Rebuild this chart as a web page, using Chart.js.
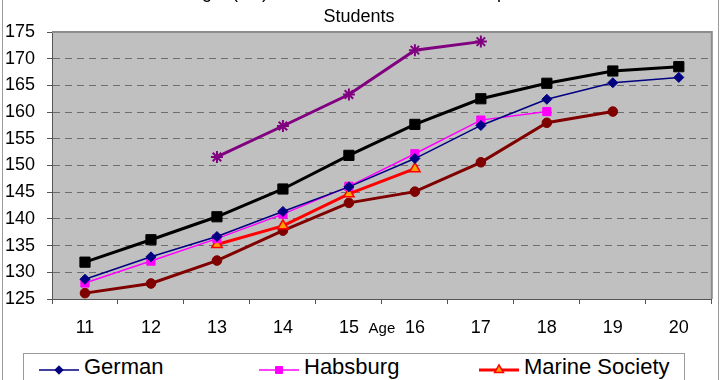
<!DOCTYPE html>
<html><head><meta charset="utf-8">
<script src="https://cdn.jsdelivr.net/npm/chart.js@4.4.1/dist/chart.umd.min.js"></script>
<style>
html,body{margin:0;padding:0;background:#fff;overflow:hidden;width:720px;height:380px;}
#wrap{position:absolute;left:0;top:-20px;width:720px;height:370px;}
#edgeL,#edgeR{position:absolute;top:0;width:1px;height:380px;background:#9a9a9a;}
#edgeL{left:2px}#edgeR{left:718px}
#legend{position:absolute;left:23px;top:353px;width:662px;height:80px;border:1px solid #9a9a9a;box-sizing:border-box;font-family:"Liberation Sans",Arial,sans-serif;font-size:22px;color:#000;}
.li{position:absolute;display:flex;align-items:flex-start;height:26px;line-height:26px;white-space:nowrap;}
.li canvas{margin-right:5px;display:block;}
</style></head><body>
<div id="wrap"><canvas id="c" width="720" height="370"></canvas></div>
<div id="legend"></div>
<div id="edgeL"></div><div id="edgeR"></div>
<script>
const titleLines = ['Mean Height (cm) of Adolescent Males in Comparison with', 'Students'];
const axisTitle = 'Age';
const ages = ['11', '12', '13', '14', '15', '16', '17', '18', '19', '20'];
const german      = [128.7, 132.9, 136.7, 141.4, 146.0, 151.3, 157.5, 162.4, 165.5, 166.5];
const habsburg    = [128.0, 132.1, 136.3, 140.9, 146.1, 152.2, 158.5, 160.1, null, null];
const marine      = [null, null, 135.2, 138.7, 144.7, 149.4, null, null, null, null];
const sandhurst   = [131.9, 136.1, 140.4, 145.6, 151.9, 157.7, 162.5, 165.4, 167.7, 168.5];
const modern      = [null, null, 151.6, 157.4, 163.3, 171.6, 173.2, null, null, null];
const karlsschule = [126.1, 127.9, 132.2, 137.8, 143.0, 145.1, 150.6, 158.0, 160.1, null];
const yTickMin = 125, yTickMax = 175, yMajorStep = 5, yMinorStep = 2.5;

const FONT = '"Liberation Sans", Arial, sans-serif';
Chart.defaults.font.family = FONT;
Chart.defaults.color = '#000';

const isMajor = v => Math.abs(v / yMajorStep - Math.round(v / yMajorStep)) < 1e-6;

const plotFrame = {
  id: 'plotFrame',
  beforeDraw(chart) {
    const {ctx, chartArea: a} = chart;
    ctx.save();
    ctx.fillStyle = '#C0C0C0';
    ctx.fillRect(a.left, a.top, a.right - a.left, a.bottom - a.top);
    ctx.restore();
  },
  beforeDatasetsDraw(chart) {
    const {ctx, chartArea: a} = chart;
    ctx.save();
    ctx.strokeStyle = '#8c8c8c';
    ctx.lineWidth = 2;
    ctx.beginPath();
    ctx.moveTo(a.left, a.top);
    ctx.lineTo(a.right, a.top);
    ctx.lineTo(a.right, a.bottom);
    ctx.stroke();
    const y = chart.scales.y;
    ctx.strokeStyle = '#555';
    ctx.lineWidth = 1;
    y.ticks.forEach(t => {
      if (!isMajor(t.value)) {
        const py = Math.round(y.getPixelForValue(t.value)) + 0.5;
        ctx.beginPath();
        ctx.moveTo(y.right - 3, py);
        ctx.lineTo(y.right, py);
        ctx.stroke();
      }
    });
    ctx.restore();
  }
};

const series = [
  {label: 'German', data: german, color: '#000080', width: 1.5, style: 'rectRot', r: 5, fill: '#000080', bw: 1},
  {label: 'Habsburg', data: habsburg, color: '#FF00FF', width: 1.5, style: 'rect', r: 5.8, fill: '#FF00FF', bw: 1},
  {label: 'Marine Society', data: marine, color: '#FF0000', width: 3, style: 'triangle', r: 6, fill: '#FFA000', bw: 1.5},
  {label: 'Sandhurst', data: sandhurst, color: '#000000', width: 3, style: 'rect', r: 7.2, fill: '#000000', bw: 1},
  {label: 'Modern', data: modern, color: '#800080', width: 3, style: 'star', r: 6, fill: '#800080', bw: 2},
  {label: 'Karlsschule', data: karlsschule, color: '#800000', width: 3, style: 'circle', r: 4.8, fill: '#800000', bw: 1}
];

const chart = new Chart(document.getElementById('c'), {
  type: 'line',
  data: {
    labels: ages,
    datasets: series.map(s => ({
      label: s.label, data: s.data,
      borderColor: s.color, backgroundColor: s.fill, borderWidth: s.width,
      pointStyle: s.style, pointRadius: s.r, pointHoverRadius: s.r,
      pointBackgroundColor: s.fill, pointBorderColor: s.color, pointBorderWidth: s.bw,
      tension: 0, fill: false
    }))
  },
  options: {
    responsive: false, animation: false, devicePixelRatio: 1, events: [],
    layout: {padding: {top: 0, right: 2, bottom: 0, left: 0}},
    plugins: {
      legend: {display: false},
      tooltip: {enabled: false},
      title: {
        display: true, text: titleLines, color: '#000',
        font: {size: 18, weight: 'normal', lineHeight: 1.3334},
        padding: {top: 1, bottom: 3}
      }
    },
    scales: {
      x: {
        type: 'category', offset: true,
        afterFit: s => { s.height = 51; },
        grid: {offset: true, drawOnChartArea: false, drawTicks: true, tickLength: 5, color: '#555'},
        border: {display: true, color: '#555', width: 1},
        ticks: {font: {size: 18}, color: '#000', padding: 13, maxRotation: 0, autoSkip: false},
        title: {display: true, text: axisTitle, color: '#000', font: {size: 15}, padding: {top: 0, bottom: 12}}
      },
      y: {
        min: yTickMin, max: yTickMax,
        afterFit: s => { s.width = 52; },
        ticks: {
          stepSize: yMinorStep, font: {size: 18}, color: '#000', padding: 12,
          callback: v => isMajor(v) ? String(Math.round(v)) : ''
        },
        grid: {
          drawTicks: true, tickLength: 5, lineWidth: 1,
          color: c => (isMajor(c.tick.value) && c.tick.value > yTickMin && c.tick.value < yTickMax) ? '#6e6e6e' : 'rgba(0,0,0,0)',
          tickColor: c => isMajor(c.tick.value) ? '#555' : 'rgba(0,0,0,0)'
        },
        border: {display: true, color: '#555', width: 1, dash: [7, 5]}
      }
    }
  },
  plugins: [plotFrame]
});

// HTML legend built from the chart's datasets
(function buildLegend() {
  const box = document.getElementById('legend');
  chart.data.datasets.forEach((ds, i) => {
    const item = document.createElement('div');
    item.className = 'li';
    item.style.left = (15 + (i % 3) * 220) + 'px';
    item.style.top = (Math.floor(i / 3) * 30) + 'px';
    const cv = document.createElement('canvas');
    cv.width = 40; cv.height = 26;
    const g = cv.getContext('2d');
    g.strokeStyle = ds.borderColor;
    g.lineWidth = ds.borderWidth;
    g.beginPath(); g.moveTo(0, 16); g.lineTo(40, 16); g.stroke();
    g.fillStyle = ds.pointBackgroundColor;
    g.strokeStyle = ds.pointBorderColor;
    g.lineWidth = ds.pointBorderWidth;
    Chart.helpers.drawPoint(g, {pointStyle: ds.pointStyle, radius: ds.pointRadius * 0.85, rotation: 0, borderWidth: ds.pointBorderWidth}, 20, 16);
    const tx = document.createElement('span');
    tx.textContent = ds.label;
    item.appendChild(cv); item.appendChild(tx);
    box.appendChild(item);
  });
})();
</script>
</body></html>
